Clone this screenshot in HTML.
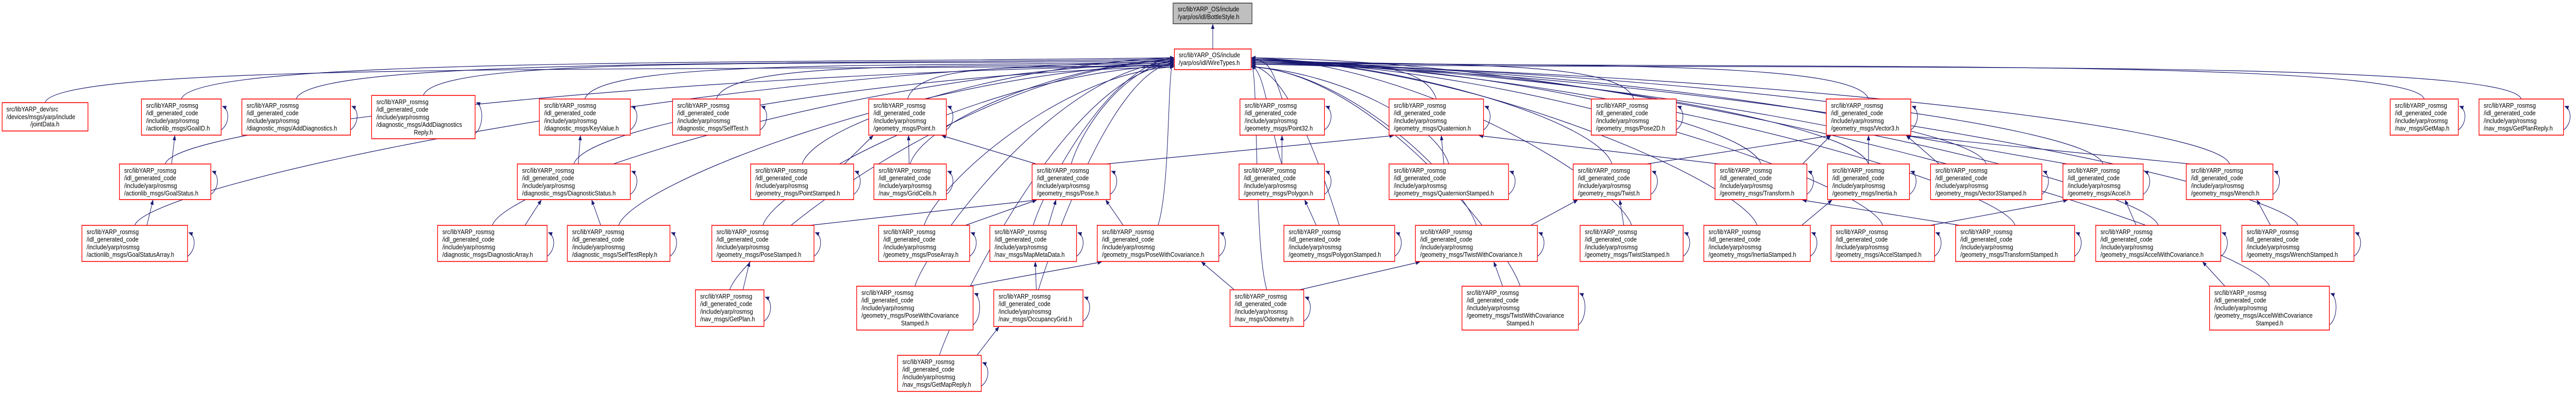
<!DOCTYPE html>
<html><head><meta charset="utf-8"><style>
html,body{margin:0;padding:0;background:#fff;overflow:hidden;width:100%;height:764px}
svg{display:block;position:absolute;left:0;top:0;width:100%;height:764px}
text{font-family:"Liberation Sans",sans-serif;font-size:13.3px;fill:#000}
.n{fill:#fff;stroke:#ff0000;stroke-width:1.6}
</style></head><body>
<svg id="s" viewBox="0 0 5975 764" preserveAspectRatio="none" xmlns="http://www.w3.org/2000/svg">
<defs><marker id="a" markerWidth="10" markerHeight="8" refX="9" refY="4" orient="auto" markerUnits="userSpaceOnUse"><path d="M0,0 L10,4 L0,8 z" fill="#191970"/></marker></defs>
<g id="edges" fill="none" stroke="#191970" stroke-width="1.2"></g>
<g id="nodes">
<rect x="2721" y="6" width="183" height="40" fill="#bfbfbf" stroke="#404040" stroke-width="1.6"/>
<text x="2732" y="22">src/libYARP_OS/include</text><text x="2732" y="37">/yarp/os/idl/BottleStyle.h</text>
<rect class="n" x="2724" y="95" width="178" height="40"/>
<text x="2734" y="111">src/libYARP_OS/include</text><text x="2734" y="126">/yarp/os/idl/WireTypes.h</text>

<rect class="n" x="5" y="199" width="199" height="55"/>
<text x="15" y="216">src/libYARP_dev/src</text><text x="15" y="231">/devices/msgs/yarp/include</text><text x="104" y="245" text-anchor="middle">/jointData.h</text>
</g>
</svg>
<script>
const R1=[192,262],R2=[318,387],R3=[437,507],R4=[562,633],R4T=[555,640],R5=[689,759],R1T=[185,269];
const P='src/libYARP_rosmsg',Q='/idl_generated_code',I='/include/yarp/rosmsg';
const nodes={
goalid:[328,513,R1,'/actionlib_msgs/GoalID.h'],
adddiag:[561,813,R1,'/diagnostic_msgs/AddDiagnostics.h'],
adddiagr:[862,1102,R1T,'/diagnostic_msgs/AddDiagnostics','Reply.h'],
keyvalue:[1251,1462,R1,'/diagnostic_msgs/KeyValue.h'],
selftest:[1560,1763,R1,'/diagnostic_msgs/SelfTest.h'],
point:[2015,2195,R1,'/geometry_msgs/Point.h'],
point32:[2876,3072,R1,'/geometry_msgs/Point32.h'],
quat:[3222,3441,R1,'/geometry_msgs/Quaternion.h'],
pose2d:[3691,3888,R1,'/geometry_msgs/Pose2D.h'],
vector3:[4236,4432,R1,'/geometry_msgs/Vector3.h'],
getmap:[5544,5702,R1,'/nav_msgs/GetMap.h'],
getplanr:[5750,5946,R1,'/nav_msgs/GetPlanReply.h'],
goalstatus:[277,489,R2,'/actionlib_msgs/GoalStatus.h'],
diagstatus:[1200,1462,R2,'/diagnostic_msgs/DiagnosticStatus.h'],
pointstamped:[1741,1980,R2,'/geometry_msgs/PointStamped.h'],
gridcells:[2027,2195,R2,'/nav_msgs/GridCells.h'],
pose:[2394,2575,R2,'/geometry_msgs/Pose.h'],
polygon:[2874,3072,R2,'/geometry_msgs/Polygon.h'],
quatstamped:[3222,3499,R2,'/geometry_msgs/QuaternionStamped.h'],
twist:[3649,3829,R2,'/geometry_msgs/Twist.h'],
transform:[3978,4191,R2,'/geometry_msgs/Transform.h'],
inertia:[4239,4429,R2,'/geometry_msgs/Inertia.h'],
vec3stamped:[4478,4736,R2,'/geometry_msgs/Vector3Stamped.h'],
accel:[4785,4971,R2,'/geometry_msgs/Accel.h'],
wrench:[5071,5272,R2,'/geometry_msgs/Wrench.h'],
gsa:[190,435,R3,'/actionlib_msgs/GoalStatusArray.h'],
diagarray:[1015,1269,R3,'/diagnostic_msgs/DiagnosticArray.h'],
selftestreply:[1316,1554,R3,'/diagnostic_msgs/SelfTestReply.h'],
posestamped:[1651,1888,R3,'/geometry_msgs/PoseStamped.h'],
posearray:[2038,2249,R3,'/geometry_msgs/PoseArray.h'],
mapmeta:[2296,2497,R3,'/nav_msgs/MapMetaData.h'],
posewc:[2545,2827,R3,'/geometry_msgs/PoseWithCovariance.h'],
polygonstamped:[2978,3235,R3,'/geometry_msgs/PolygonStamped.h'],
twistwc:[3283,3566,R3,'/geometry_msgs/TwistWithCovariance.h'],
twiststamped:[3665,3904,R3,'/geometry_msgs/TwistStamped.h'],
inertiastamped:[3952,4199,R3,'/geometry_msgs/InertiaStamped.h'],
accelstamped:[4247,4487,R3,'/geometry_msgs/AccelStamped.h'],
transformstamped:[4536,4812,R3,'/geometry_msgs/TransformStamped.h'],
accelwc:[4861,5151,R3,'/geometry_msgs/AccelWithCovariance.h'],
wrenchstamped:[5200,5460,R3,'/geometry_msgs/WrenchStamped.h'],
getplan:[1613,1772,R4,'/nav_msgs/GetPlan.h'],
posewcs:[1987,2257,R4T,'/geometry_msgs/PoseWithCovariance','Stamped.h'],
occgrid:[2305,2512,R4,'/nav_msgs/OccupancyGrid.h'],
odometry:[2853,3024,R4,'/nav_msgs/Odometry.h'],
twistwcs:[3391,3661,R4T,'/geometry_msgs/TwistWithCovariance','Stamped.h'],
accelwcs:[5125,5403,R4T,'/geometry_msgs/AccelWithCovariance','Stamped.h'],
getmapreply:[2082,2276,R5,'/nav_msgs/GetMapReply.h'],
jd:[5,204,[199,254]]
};
const deps=[['goalstatus','goalid'],['gsa','goalstatus'],['diagstatus','keyvalue'],['diagarray','diagstatus'],['selftestreply','diagstatus'],
['pointstamped','point'],['gridcells','point'],['pose','point'],['pose','quat'],['polygon','point32'],['polygonstamped','polygon'],
['quatstamped','quat'],['posestamped','pose'],['posearray','pose'],['mapmeta','pose'],['posewc','pose'],['getplan','posestamped'],
['posewcs','posewc'],['occgrid','mapmeta'],['odometry','posewc'],['odometry','twistwc'],['getmapreply','occgrid'],
['twist','vector3'],['transform','vector3'],['transform','quat'],['inertia','vector3'],['vec3stamped','vector3'],['accel','vector3'],
['wrench','vector3'],['twistwc','twist'],['twiststamped','twist'],['inertiastamped','inertia'],['accelstamped','accel'],
['transformstamped','transform'],['accelwc','accel'],['wrenchstamped','wrench'],['twistwcs','twistwc'],['accelwcs','accelwc']];
const NS='http://www.w3.org/2000/svg';
const E=document.getElementById('edges'),G=document.getElementById('nodes');
function path(d,arrow){const p=document.createElementNS(NS,'path');p.setAttribute('d',d);if(arrow)p.setAttribute('marker-end','url(#a)');E.appendChild(p);}
function txt(x,y,s,mid){const t=document.createElementNS(NS,'text');t.setAttribute('x',x);t.setAttribute('y',y);if(mid)t.setAttribute('text-anchor','middle');t.textContent=s;G.appendChild(t);}
path('M2813,95 L2813,47',true);
const ids=Object.keys(nodes);let li=0,ri=0;
ids.forEach(id=>{const n=nodes[id];const x1=n[0],x2=n[1],y1=n[2][0],y2=n[2][1];
 if(id!=='jd'){const r=document.createElementNS(NS,'rect');r.setAttribute('class','n');r.setAttribute('x',x1);r.setAttribute('y',y1);r.setAttribute('width',x2-x1);r.setAttribute('height',y2-y1);G.appendChild(r);
  const lines=[P,Q,I,n[3]];lines.forEach((s,k)=>txt(x1+11,y1+17+k*14.7,s));
  if(n[4])txt((x1+x2)/2,y1+17+4*14.7,n[4],true);
  path(`M${x2},${y2-10} C${x2+20},${y2-22} ${x2+20},${y1+20} ${x2+3},${y1+14}`,true);
 }
 const cx=(x1+x2)/2;let tx,ty,d;
 if(cx<2700){ty=112+(li++%8)*2.5;tx=2723;d=`M${cx},${y1} C${cx+30},${y1-80} ${tx-0.45*(tx-cx)},${ty+12} ${tx},${ty}`;}
 else if(cx>2930){ty=112+(ri++%8)*2.5;tx=2903;d=`M${cx},${y1} C${cx-30},${y1-80} ${tx+0.45*(cx-tx)},${ty+12} ${tx},${ty}`;}
 else{tx=Math.max(2745,Math.min(2885,cx));ty=136;d=`M${cx},${y1} C${cx},${y1-60} ${tx},${ty+50} ${tx},${ty}`;}
 path(d,true);
});
deps.forEach(([c,p])=>{const a=nodes[c],b=nodes[p];const ax=(a[0]+a[1])/2,bx=(b[0]+b[1])/2;
 const sx=Math.max(a[0]+10,Math.min(a[1]-10,bx+(ax-bx)*0.6)),tx2=Math.max(b[0]+10,Math.min(b[1]-10,ax+(bx-ax)*0.6));
 path(`M${sx},${a[2][0]} L${tx2},${b[2][1]+1}`,true);});
</script>
</body></html>
